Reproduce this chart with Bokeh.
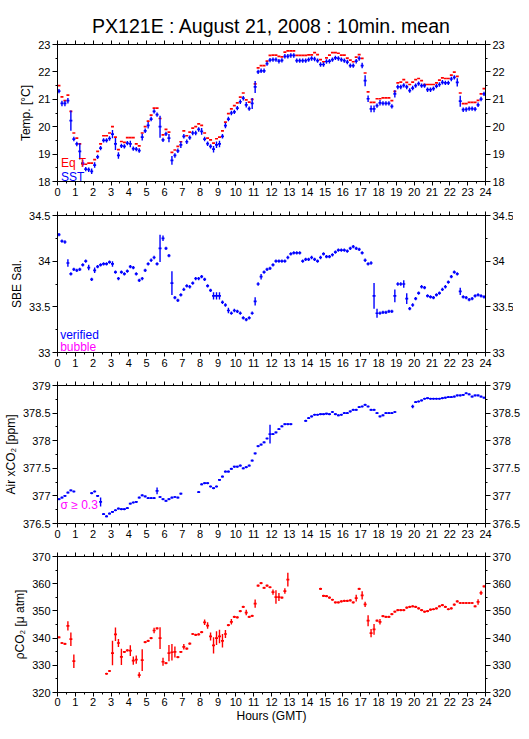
from bokeh.plotting import figure
from bokeh.layouts import column
from bokeh.models import (LinearAxis, Range1d, Label, FixedTicker, ColumnDataSource,
                          CustomLabelingPolicy, Spacer)
from bokeh.embed import file_html
from bokeh.resources import INLINE

FONT = "Liberation Sans"
RED = "#ff0000"
BLUE = "#0000ff"
MAGENTA = "#ff00ff"

title_text = "PX121E : August 21, 2008 : 10min. mean"
hour_ticks = list(range(25))
hour_minor = [h + 0.5 for h in range(24)]
# centres of the 144 ten-minute bins of the day (hours)
bin_hours = [(i + 0.5) / 6 for i in range(144)]
half_bin = 1 / 12

# ---------------- Temperature ----------------
eq_temp = [
    21.5, 21.09, 20.95, 21.15, 20.56, 19.77, 19.58, 19.37, 18.63, 18.63, 18.67, 18.67,
    18.8, 19.1, 19.37, 19.67, 19.67, 19.77, 20.0, 19.62, 19.16, 19.46, 19.43, 19.6,
    19.6, 19.6, 19.37, 19.3, 19.77, 20.0, 20.2, 20.42, 20.68, 20.68, 20.3, 19.7,
    19.9, 19.8, 19.06, 19.15, 19.28, 19.45, 19.85, 19.67, 19.8, 19.95, 20.0, 20.1,
    20.05, 19.77, 19.58, 19.52, 19.4, 19.56, 19.62, 19.85, 20.17, 20.48, 20.65, 20.77,
    20.87, 21.08, 21.23, 20.98, 20.9, 21.0, 21.56, 22.15, 22.23, 22.23, 22.39, 22.6,
    22.61, 22.61, 22.57, 22.55, 22.72, 22.77, 22.77, 22.77, 22.6, 22.6, 22.6, 22.6,
    22.62, 22.62, 22.7, 22.63, 22.45, 22.37, 22.51, 22.61, 22.7, 22.7, 22.68, 22.61,
    22.61, 22.5, 22.43, 22.37, 22.54, 22.63, 22.49, 21.96, 21.27, 20.89, 20.89, 21.02,
    21.02, 21.05, 21.05, 21.05, 20.95, 21.29, 21.6, 21.63, 21.72, 21.62, 21.54, 21.63,
    21.72, 21.76, 21.68, 21.54, 21.54, 21.54, 21.54, 21.6, 21.7, 21.78, 21.76, 21.76,
    21.88, 21.99, 21.84, 21.23, 20.84, 20.84, 20.89, 20.89, 20.89, 20.96, 21.2, 21.39,
]
sst = [
    21.3, 20.85, 20.85, 20.95, 20.22, 19.55, 19.37, 19.1, 18.67, 18.45, 18.43, 18.37,
    18.6, 18.9, 19.22, 19.5, 19.5, 19.57, 19.73, 19.37, 18.95, 19.3, 19.28, 19.4,
    19.37, 19.2, 19.18, 19.13, 19.62, 19.85, 20.05, 20.28, 20.56, 20.44, 20.0, 19.52,
    19.74, 19.58, 18.77, 18.95, 19.12, 19.34, 19.65, 19.45, 19.6, 19.77, 19.77, 19.9,
    19.83, 19.55, 19.38, 19.28, 19.18, 19.34, 19.37, 19.65, 20.04, 20.28, 20.5, 20.54,
    20.68, 20.91, 21.04, 20.8, 20.66, 20.85, 21.45, 22.0, 22.04, 22.04, 22.3, 22.43,
    22.45, 22.45, 22.39, 22.42, 22.57, 22.57, 22.6, 22.6, 22.41, 22.41, 22.41, 22.41,
    22.45, 22.49, 22.47, 22.41, 22.27, 22.27, 22.38, 22.39, 22.45, 22.51, 22.49, 22.45,
    22.41, 22.36, 22.23, 22.23, 22.39, 22.49, 22.23, 21.68, 21.02, 20.65, 20.65, 20.77,
    20.87, 20.85, 20.85, 20.85, 20.74, 21.2, 21.45, 21.45, 21.51, 21.45, 21.32, 21.41,
    21.5, 21.57, 21.5, 21.5, 21.35, 21.35, 21.39, 21.48, 21.54, 21.62, 21.6, 21.6,
    21.74, 21.8, 21.62, 20.93, 20.62, 20.63, 20.66, 20.66, 20.64, 20.8, 21.01, 21.2,
]
sst_err = [
    0.08, 0.1, 0.1, 0.1, 0.37, 0.08, 0.08, 0.3, 0.12, 0.08, 0.08, 0.1,
    0.1, 0.08, 0.08, 0.08, 0.08, 0.08, 0.15, 0.22, 0.12, 0.08, 0.08, 0.08,
    0.12, 0.08, 0.08, 0.08, 0.12, 0.08, 0.12, 0.08, 0.08, 0.08, 0.4, 0.08,
    0.08, 0.15, 0.16, 0.08, 0.08, 0.12, 0.08, 0.08, 0.08, 0.08, 0.08, 0.08,
    0.12, 0.08, 0.08, 0.08, 0.12, 0.12, 0.12, 0.08, 0.1, 0.08, 0.08, 0.08,
    0.08, 0.08, 0.08, 0.1, 0.08, 0.2, 0.22, 0.08, 0.08, 0.08, 0.08, 0.08,
    0.08, 0.08, 0.08, 0.08, 0.08, 0.08, 0.08, 0.08, 0.08, 0.08, 0.08, 0.08,
    0.08, 0.08, 0.08, 0.08, 0.08, 0.08, 0.08, 0.08, 0.08, 0.08, 0.08, 0.08,
    0.08, 0.08, 0.08, 0.08, 0.08, 0.08, 0.1, 0.2, 0.12, 0.12, 0.12, 0.08,
    0.1, 0.08, 0.08, 0.08, 0.08, 0.13, 0.08, 0.08, 0.08, 0.08, 0.08, 0.08,
    0.08, 0.08, 0.08, 0.08, 0.08, 0.08, 0.08, 0.08, 0.08, 0.08, 0.08, 0.08,
    0.08, 0.08, 0.15, 0.2, 0.08, 0.08, 0.08, 0.08, 0.08, 0.08, 0.08, 0.08,
]

# ---------------- Salinity ----------------
salinity = [
    34.29, 34.22, 34.21, 33.98, 33.86, 33.91, 33.9, 33.91, 33.96, 34.0, 33.93, 33.8,
    33.9, 33.94, 33.96, 33.97, 33.97, 33.99, 33.97, 33.88, 33.81, 33.88, 33.86, 33.89,
    33.94, 33.93, 33.86, 33.79, 33.81, 33.9, 33.97, 34.01, 34.04, 33.97, 34.14, 34.25,
    34.14, 34.06, 33.76, 33.6, 33.57, 33.63, 33.69, 33.73, 33.72, 33.76, 33.81, 33.81,
    33.83, 33.8, 33.73, 33.68, 33.62, 33.62, 33.62, 33.55, 33.52, 33.46, 33.43, 33.46,
    33.45, 33.43, 33.38, 33.36, 33.38, 33.43, 33.56, 33.75, 33.83, 33.88, 33.91, 33.92,
    33.96, 34.0, 34.0, 34.0, 34.0, 34.04, 34.08, 34.09, 34.09, 34.09, 34.0, 34.02,
    34.02, 34.04, 34.02, 34.0, 34.04, 34.08, 34.05, 34.05, 34.07, 34.1, 34.12, 34.12,
    34.12, 34.11, 34.14, 34.16, 34.14, 34.13, 34.09, 34.01, 33.97, 33.98, 33.62, 33.43,
    33.43, 33.44, 33.44, 33.45, 33.45, 33.62, 33.75, 33.75, 33.75, 33.59, 33.48, 33.52,
    33.59, 33.65, 33.72, 33.71, 33.62, 33.61, 33.6, 33.63, 33.65, 33.69, 33.72, 33.77,
    33.83, 33.88, 33.86, 33.67, 33.61, 33.6, 33.58, 33.59, 33.62, 33.63, 33.62, 33.61,
]
salinity_err = [
    0.018, 0.018, 0.018, 0.04, 0.018, 0.018, 0.018, 0.018, 0.018, 0.018, 0.03, 0.018,
    0.03, 0.018, 0.018, 0.018, 0.018, 0.018, 0.03, 0.018, 0.018, 0.018, 0.018, 0.018,
    0.018, 0.018, 0.018, 0.018, 0.018, 0.018, 0.018, 0.018, 0.018, 0.018, 0.15, 0.03,
    0.018, 0.018, 0.13, 0.018, 0.018, 0.018, 0.018, 0.018, 0.018, 0.018, 0.018, 0.018,
    0.018, 0.018, 0.018, 0.018, 0.04, 0.04, 0.04, 0.018, 0.018, 0.03, 0.018, 0.018,
    0.018, 0.018, 0.018, 0.018, 0.018, 0.018, 0.045, 0.018, 0.03, 0.018, 0.018, 0.018,
    0.018, 0.018, 0.018, 0.018, 0.018, 0.018, 0.018, 0.018, 0.018, 0.018, 0.018, 0.018,
    0.018, 0.018, 0.018, 0.018, 0.018, 0.018, 0.018, 0.018, 0.018, 0.018, 0.018, 0.018,
    0.018, 0.018, 0.018, 0.018, 0.018, 0.018, 0.018, 0.018, 0.018, 0.018, 0.14, 0.05,
    0.018, 0.018, 0.018, 0.018, 0.018, 0.07, 0.018, 0.018, 0.04, 0.06, 0.018, 0.018,
    0.018, 0.018, 0.018, 0.018, 0.018, 0.018, 0.018, 0.018, 0.018, 0.018, 0.018, 0.018,
    0.018, 0.018, 0.018, 0.04, 0.018, 0.018, 0.018, 0.018, 0.018, 0.018, 0.018, 0.018,
]

# ---------------- Air xCO2 ----------------
air_xco2 = [
    376.94, 376.97, 377.0, 377.06, 377.1, 377.08, None, None, None, None, None, 377.05,
    377.08, 377.0, 376.89, 376.67, 376.63, 376.68, 376.71, 376.74, 376.77, 376.76, 376.76, 376.78,
    376.86, 376.88, 376.89, 376.97, 377.01, 376.99, 376.96, 376.96, 376.96, 377.09, 376.98, 376.94,
    376.91, 376.94, 376.97, 376.98, 376.97, 377.04, None, None, None, None, None, 377.07,
    377.21, 377.23, 377.23, 377.17, 377.14, 377.17, 377.29, 377.35, 377.44, 377.44, 377.49, 377.53,
    377.53, 377.55, 377.5, 377.52, 377.55, 377.64, 377.77, 377.9, 377.93, 377.97, 378.04, 378.12,
    378.12, 378.15, 378.21, 378.26, 378.3, 378.3, 378.3, None, None, None, None, 378.36,
    378.41, 378.44, 378.47, 378.47, 378.48, 378.48, 378.49, 378.48, 378.52, 378.48, 378.46, 378.47,
    378.5, 378.5, 378.53, 378.56, 378.56, 378.61, 378.62, 378.65, 378.62, 378.56, 378.56, 378.5,
    378.44, 378.46, 378.5, 378.5, 378.5, 378.52, None, None, None, None, None, 378.62,
    378.7, 378.71, 378.73, 378.76, 378.77, 378.76, 378.76, 378.76, 378.76, 378.77, 378.78, 378.79,
    378.79, 378.8, 378.82, 378.82, 378.83, 378.86, 378.84, 378.8, 378.82, 378.82, 378.8, 378.78,
]
air_xco2_err = [
    0.018, 0.018, 0.018, 0.018, 0.018, 0.018, 0.018, 0.018, 0.018, 0.018, 0.018, 0.018,
    0.018, 0.018, 0.08, 0.018, 0.018, 0.018, 0.018, 0.018, 0.018, 0.018, 0.018, 0.018,
    0.018, 0.018, 0.018, 0.018, 0.018, 0.018, 0.018, 0.018, 0.018, 0.06, 0.018, 0.018,
    0.018, 0.018, 0.018, 0.018, 0.018, 0.018, 0.018, 0.018, 0.018, 0.018, 0.018, 0.018,
    0.018, 0.018, 0.018, 0.018, 0.018, 0.018, 0.018, 0.018, 0.018, 0.018, 0.018, 0.018,
    0.018, 0.018, 0.018, 0.018, 0.018, 0.018, 0.018, 0.018, 0.018, 0.018, 0.018, 0.17,
    0.018, 0.018, 0.018, 0.018, 0.018, 0.018, 0.018, 0.018, 0.018, 0.018, 0.018, 0.018,
    0.018, 0.018, 0.018, 0.018, 0.018, 0.018, 0.018, 0.018, 0.018, 0.018, 0.018, 0.018,
    0.018, 0.018, 0.018, 0.018, 0.018, 0.018, 0.018, 0.018, 0.018, 0.018, 0.018, 0.018,
    0.018, 0.018, 0.018, 0.018, 0.018, 0.018, 0.018, 0.018, 0.018, 0.018, 0.018, 0.03,
    0.018, 0.018, 0.018, 0.018, 0.018, 0.018, 0.018, 0.018, 0.018, 0.018, 0.018, 0.018,
    0.018, 0.018, 0.018, 0.018, 0.018, 0.018, 0.018, 0.018, 0.018, 0.018, 0.018, 0.018,
]

# ---------------- pCO2 ----------------
pco2 = [
    340.3, 338.2, 337.9, 344.5, 339.6, 331.5, None, None, None, None, None, None,
    None, None, None, None, 326.9, 327.9, 334.5, 341.4, 338.2, 333.1, 334.9, 335.5,
    335.4, 331.7, 332.1, 326.4, 331.9, 338.5, 339.0, 340.0, 342.8, 343.6, 340.0, 331.3,
    330.8, 334.5, 334.8, 334.9, 333.0, 334.9, 336.8, 336.1, 338.0, 341.5, 341.2, 341.4,
    342.2, 345.8, 344.6, 340.6, 337.3, 340.0, 340.6, 339.0, 341.5, 344.8, 346.0, 347.8,
    347.6, 349.9, 351.5, 349.4, 347.8, 348.2, 352.7, 359.3, 360.2, 358.5, 359.3, 358.7,
    356.9, 355.1, 355.1, 354.9, 357.3, 361.5, None, None, None, None, None, None,
    None, None, None, None, 358.1, 355.5, 355.4, 354.9, 354.1, 353.1, 353.1, 353.5,
    353.7, 353.7, 353.9, 353.1, 354.7, 358.1, 355.7, 352.4, 346.4, 341.8, 343.2, 346.4,
    346.0, 348.1, 347.8, 347.8, 348.8, 349.7, 350.3, 350.3, 350.3, 351.2, 351.5, 351.7,
    351.5, 350.9, 350.3, 349.7, 349.9, 350.5, 350.6, 350.9, 351.7, 352.1, 351.5, 350.6,
    350.9, 352.3, 353.5, 352.9, 352.9, 352.9, 352.9, 352.9, 351.7, 353.3, 356.6, 359.0,
]
pco2_err = [
    0.4, 0.4, 0.4, 1.7, 2.5, 2.5, 0.4, 0.4, 0.4, 0.4, 0.4, 0.4,
    0.4, 0.4, 0.4, 0.4, 0.4, 0.4, 4.5, 2.5, 1.5, 3.0, 0.4, 0.4,
    2.0, 1.5, 1.5, 1.0, 4.0, 0.4, 0.4, 0.4, 1.0, 0.4, 4.0, 1.5,
    0.4, 3.0, 3.0, 2.0, 0.4, 0.4, 1.0, 0.4, 0.4, 0.4, 0.4, 0.4,
    0.4, 1.0, 1.2, 1.5, 3.0, 2.5, 2.5, 2.5, 1.5, 0.4, 1.0, 0.4,
    0.4, 0.4, 0.4, 1.0, 0.4, 0.4, 1.5, 0.4, 0.4, 0.4, 0.4, 0.4,
    1.0, 2.5, 1.5, 0.4, 1.0, 2.5, 0.4, 0.4, 0.4, 0.4, 0.4, 0.4,
    0.4, 0.4, 0.4, 0.4, 0.4, 0.4, 0.4, 0.4, 0.4, 0.4, 0.4, 0.4,
    0.4, 0.4, 0.4, 0.4, 1.2, 0.4, 1.5, 1.0, 2.0, 1.5, 2.0, 0.4,
    1.0, 0.4, 0.4, 0.4, 0.4, 0.4, 0.4, 0.4, 0.4, 0.4, 0.4, 0.4,
    0.4, 0.4, 0.4, 0.4, 0.4, 0.4, 0.4, 0.4, 0.4, 0.4, 0.4, 0.4,
    0.4, 0.4, 0.4, 0.4, 0.4, 0.4, 0.4, 0.4, 0.4, 1.0, 0.8, 0.4,
]

NO_LABELS = CustomLabelingPolicy(code="for (const i of indices) { indices.unset(i) } return indices")


def style_axis(ax, ticks, minor, overrides=None, show_labels=True):
    ax.ticker = FixedTicker(ticks=ticks, minor_ticks=minor)
    ax.axis_line_color = "black"
    ax.major_tick_line_color = "black"
    ax.minor_tick_line_color = "black"
    ax.major_tick_in = 0
    ax.minor_tick_in = 0
    ax.major_label_text_font = FONT
    ax.major_label_text_color = "black"
    ax.major_label_text_font_size = "11px"
    ax.axis_label_text_font = FONT
    ax.axis_label_text_font_style = "normal"
    ax.axis_label_text_color = "black"
    ax.axis_label_text_font_size = "12px"
    ax.major_label_standoff = 2
    ax.axis_label_standoff = 2
    if overrides:
        ax.major_label_overrides = overrides
    if not show_labels:
        # tick marks only: no labels drawn and no space reserved for them
        ax.major_label_policy = NO_LABELS
        ax.major_label_text_font_size = "0px"
        ax.major_label_standoff = 0


def make_panel(ylo, yhi, yticks, yminor, ylabels, ylabel, frame_h, top, bottom,
               title=None, xlabel=None):
    p = figure(frame_width=428, frame_height=frame_h,
               x_range=Range1d(0, 24), y_range=Range1d(ylo, yhi),
               output_backend="svg", toolbar_location=None,
               min_border_left=50, min_border_right=35,
               min_border_top=top, min_border_bottom=bottom,
               background_fill_color="white", border_fill_color="white")
    p.xgrid.visible = False
    p.ygrid.visible = False
    p.outline_line_color = "black"
    p.outline_line_alpha = 1.0
    overrides = {t: l for t, l in zip(yticks, ylabels)}
    # bottom & top hour axes
    xb = p.xaxis[0]
    style_axis(xb, hour_ticks, hour_minor)
    xb.major_tick_out = 4
    xb.minor_tick_out = 2
    if xlabel:
        xb.axis_label = xlabel
        xb.major_label_standoff = 1
        xb.axis_label_standoff = 0
    xt = LinearAxis()
    style_axis(xt, hour_ticks, hour_minor, show_labels=False)
    xt.major_tick_out = 4
    xt.minor_tick_out = 2
    p.add_layout(xt, "above")
    # left & right axes
    yl = p.yaxis[0]
    style_axis(yl, yticks, yminor, overrides)
    yl.major_tick_out = 5
    yl.minor_tick_out = 2
    yl.axis_label = ylabel
    yr = LinearAxis()
    style_axis(yr, yticks, yminor, overrides)
    yr.major_tick_out = 5
    yr.minor_tick_out = 2
    p.add_layout(yr, "right")
    if title:
        p.title.text = title
        p.title.align = "center"
        p.title.text_font = FONT
        p.title.text_font_size = "19.5px"
        p.title.text_font_style = "normal"
        p.title.text_color = "black"
        p.title.standoff = 8
    return p


def add_marks(p, values, errs, color):
    xs, x0, x1, ys, lo, hi = [], [], [], [], [], []
    for i, v in enumerate(values):
        if v is None:
            continue
        x = bin_hours[i]
        xs.append(x)
        x0.append(x - half_bin)
        x1.append(x + half_bin)
        ys.append(v)
        e = errs[i] if errs is not None else 0.0
        lo.append(v - e)
        hi.append(v + e)
    src = ColumnDataSource(dict(x=xs, x0=x0, x1=x1, y=ys, lo=lo, hi=hi))
    p.segment(x0="x0", y0="y", x1="x1", y1="y", source=src,
              line_color=color, line_width=1.7)
    if errs is not None:
        p.segment(x0="x", y0="lo", x1="x", y1="hi", source=src,
                  line_color=color, line_width=1.4)


def add_text(p, x, y, text, color):
    p.add_layout(Label(x=x, y=y, text=text, text_color=color, text_font=FONT,
                       text_font_size="12px", text_baseline="alphabetic"))


# Panel 1: temperature
p1 = make_panel(18, 23, [18, 19, 20, 21, 22, 23], [18.5, 19.5, 20.5, 21.5, 22.5],
                ["18", "19", "20", "21", "22", "23"], "Temp. [°C]", 137, 37, 26,
                title=title_text)
add_marks(p1, eq_temp, None, RED)
add_marks(p1, sst, sst_err, BLUE)
add_text(p1, 0.2, 18.69, "Eq T", RED)
add_text(p1, 0.2, 18.18, "SST", BLUE)

# Panel 2: salinity
p2 = make_panel(33, 34.5, [33, 33.5, 34, 34.5], [33.25, 33.75, 34.25],
                ["33", "33.5", "34", "34.5"], "SBE Sal.", 137, 8, 26)
add_marks(p2, salinity, salinity_err, BLUE)
add_text(p2, 0.15, 33.19, "verified", BLUE)
add_text(p2, 0.15, 33.06, "bubble", MAGENTA)

# Panel 3: air xCO2
p3 = make_panel(376.5, 379, [376.5, 377, 377.5, 378, 378.5, 379],
                [376.75, 377.25, 377.75, 378.25, 378.75],
                ["376.5", "377", "377.5", "378", "378.5", "379"],
                "Air xCO₂ [ppm]", 138, 7, 26)
add_marks(p3, air_xco2, air_xco2_err, BLUE)
add_text(p3, 0.17, 376.83, "σ ≥ 0.3", MAGENTA)

# Panel 4: pCO2
p4 = make_panel(320, 370, [320, 330, 340, 350, 360, 370], [325, 335, 345, 355, 365],
                ["320", "330", "340", "350", "360", "370"],
                "ρCO₂ [μ atm]", 136, 7, 28, xlabel="Hours (GMT)")
add_marks(p4, pco2, pco2_err, RED)

layout = column(Spacer(width=513, height=7), p1, p2, p3, p4, spacing=0)
open("out.html", "w").write(file_html(layout, INLINE))
